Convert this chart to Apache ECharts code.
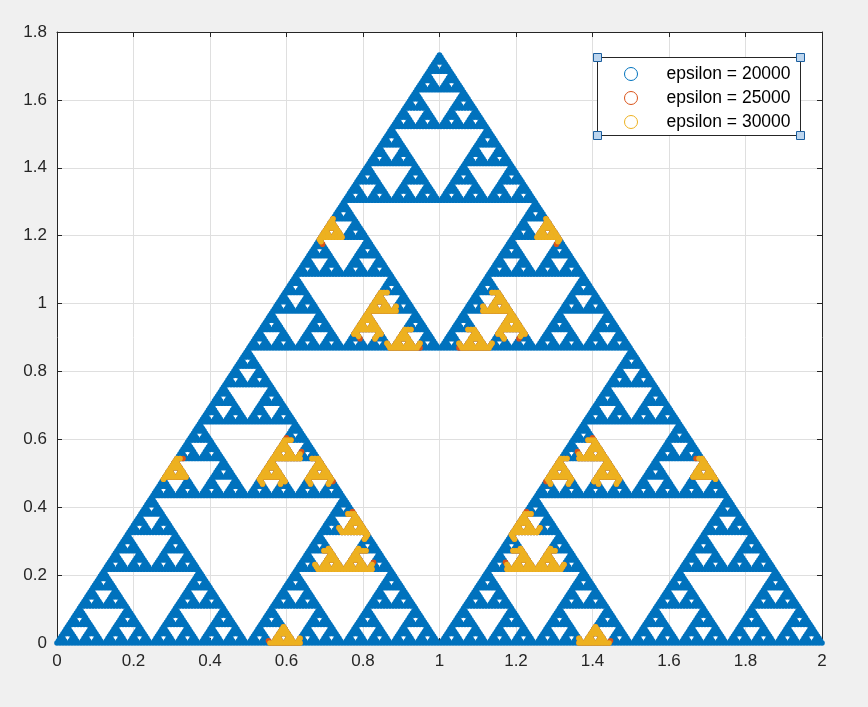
<!DOCTYPE html>
<html><head><meta charset="utf-8">
<script src="https://cdn.jsdelivr.net/npm/echarts@6/dist/echarts.min.js"></script>
<style>html,body{margin:0;padding:0;background:#f0f0f0}#c{width:868px;height:707px}</style>
</head><body><div id="c"></div>
<script>
// ---- data ----
const seriesNames = ['epsilon = 20000', 'epsilon = 25000', 'epsilon = 30000'];
const seriesColors = ['#0072BD', '#D95319', '#EDB120'];
// Sierpinski triangle corners (left, right, top) and lattice resolution (rows)
const triangleVertices = [[0, 0], [2, 0], [1, 1.7320508]];
const latticeRows = 256;
// yellow (epsilon = 30000) patches: [cx, cy, radius]
const yellowZones = [
  [0.8125, 0.9382, 0.046], [0.8438, 0.9923, 0.045], [0.9063, 0.8841, 0.045],
  [1.1875, 0.9382, 0.046], [1.1563, 0.9923, 0.045], [1.0938, 0.8841, 0.045],
  [0.7812, 0.2345, 0.046], [0.7188, 0.2345, 0.045], [0.7813, 0.3428, 0.045],
  [0.5937, 0.5593, 0.045], [0.5625, 0.5052, 0.046], [0.6875, 0.5052, 0.045],
  [1.4063, 0.5593, 0.045], [1.4375, 0.5052, 0.046], [1.3125, 0.5052, 0.045],
  [1.2188, 0.2345, 0.046], [1.2813, 0.2345, 0.045], [1.2188, 0.3428, 0.045],
  [0.7100, 1.2120, 0.040], [1.2900, 1.2120, 0.040],
  [0.5953, 0.0089, 0.042], [1.4047, 0.0089, 0.042],
  [0.3053, 0.5112, 0.040], [1.6947, 0.5112, 0.040]
];
// red (epsilon = 25000) patches: same places, only a hairline rim shows
const redZoneMargin = 0.0008;
const xTicks = [0, 0.2, 0.4, 0.6, 0.8, 1, 1.2, 1.4, 1.6, 1.8, 2];
const xTickLabels = ['0', '0.2', '0.4', '0.6', '0.8', '1', '1.2', '1.4', '1.6', '1.8', '2'];
const yTicks = [0, 0.2, 0.4, 0.6, 0.8, 1, 1.2, 1.4, 1.6, 1.8];
const yTickLabels = ['0', '0.2', '0.4', '0.6', '0.8', '1', '1.2', '1.4', '1.6', '1.8'];

// ---- build point sets ----
function sierpinskiPoints() {
  const [L, R, T] = triangleVertices;
  const n = latticeRows - 1;
  const pts = [];
  for (let r = 0; r <= n; r++) {
    for (let c = 0; c <= r; c++) {
      const a = c, b = r - c, d = n - r;
      if ((a & b) !== 0) continue;
      pts.push([(d * T[0] + b * L[0] + a * R[0]) / n, (d * T[1] + b * L[1] + a * R[1]) / n]);
    }
  }
  return pts;
}
const allPts = sierpinskiPoints();
function inZones(p, zones, extra) {
  for (const z of zones) {
    const dx = p[0] - z[0], dy = p[1] - z[1];
    if (dx * dx + dy * dy <= (z[2] + extra) * (z[2] + extra)) return true;
  }
  return false;
}
const blueData = allPts;
const redData = allPts.filter(p => inZones(p, yellowZones, redZoneMargin));
const yellowData = allPts.filter(p => inZones(p, yellowZones, 0));
const seriesData = [blueData, redData, yellowData];

// ---- chart ----
const FONT = 'Liberation Sans, Arial, Helvetica, sans-serif';
const AX = '#262626';
function lbl(ticks, labels) {
  return v => { const i = ticks.findIndex(t => Math.abs(t - v) < 1e-6); return i >= 0 ? labels[i] : ''; };
}
function axisBase(extra) {
  return Object.assign({
    type: 'value',
    axisLine: { show: true, onZero: false, lineStyle: { color: AX, width: 1 } },
    axisTick: { show: true, inside: true, length: 5, lineStyle: { color: AX } },
    splitLine: { show: false },
    axisLabel: { show: false }
  }, extra);
}
const chart = echarts.init(document.getElementById('c'), null, { renderer: 'canvas' });
const LB = { x: 597.5, y: 57.5, w: 203, h: 78 };
function handle(x, y) {
  return { type: 'rect', z: 20, shape: { x: x - 4, y: y - 4, width: 8, height: 8 },
    style: { fill: '#bcd5ee', stroke: '#1b5e9e', lineWidth: 1 } };
}
chart.setOption({
  animation: false,
  backgroundColor: '#f0f0f0',
  grid: { left: 57, right: 46, top: 32, bottom: 64, show: true, backgroundColor: '#ffffff', borderWidth: 0 },
  xAxis: [
    axisBase({ min: 0, max: 2, interval: 0.2, position: 'bottom',
      splitLine: { show: true, lineStyle: { color: '#dfdfdf', width: 1 } },
      axisLabel: { show: true, margin: 10, fontSize: 17, color: AX, fontFamily: FONT, formatter: lbl(xTicks, xTickLabels) } }),
    axisBase({ min: 0, max: 2, interval: 0.2, position: 'top' })
  ],
  yAxis: [
    axisBase({ min: 0, max: 1.8, interval: 0.2, position: 'left',
      splitLine: { show: true, lineStyle: { color: '#dfdfdf', width: 1 } },
      axisLabel: { show: true, margin: 10, fontSize: 17, color: AX, fontFamily: FONT, formatter: lbl(yTicks, yTickLabels) } }),
    axisBase({ min: 0, max: 1.8, interval: 0.2, position: 'right' })
  ],
  legend: {
    show: true, orient: 'vertical', left: 624, top: 65, padding: 0, z: 15,
    itemWidth: 13, itemHeight: 13, itemGap: 6,
    textStyle: { fontSize: 17.5, color: '#000', fontFamily: FONT, padding: [0, 0, 0, 24] },
    data: seriesNames.map((n, i) => ({ name: n, icon: 'circle',
      itemStyle: { color: 'rgba(0,0,0,0)', borderColor: seriesColors[i], borderWidth: 1 } })),
    selectedMode: false
  },
  graphic: [
    { type: 'rect', z: 10, shape: { x: LB.x, y: LB.y, width: LB.w, height: LB.h },
      style: { fill: '#ffffff', stroke: AX, lineWidth: 1 } },
    handle(LB.x, LB.y), handle(LB.x + LB.w, LB.y), handle(LB.x, LB.y + LB.h), handle(LB.x + LB.w, LB.y + LB.h)
  ],
  series: seriesNames.map((n, i) => ({
    name: n, type: 'scatter', xAxisIndex: 0, yAxisIndex: 0,
    data: seriesData[i], symbol: 'circle', symbolSize: 5.6,
    progressive: 0, large: false, silent: true, z: 2 + i,
    itemStyle: { color: seriesColors[i], opacity: 1 },
    emphasis: { disabled: true }
  }))
});
</script>
</body></html>
